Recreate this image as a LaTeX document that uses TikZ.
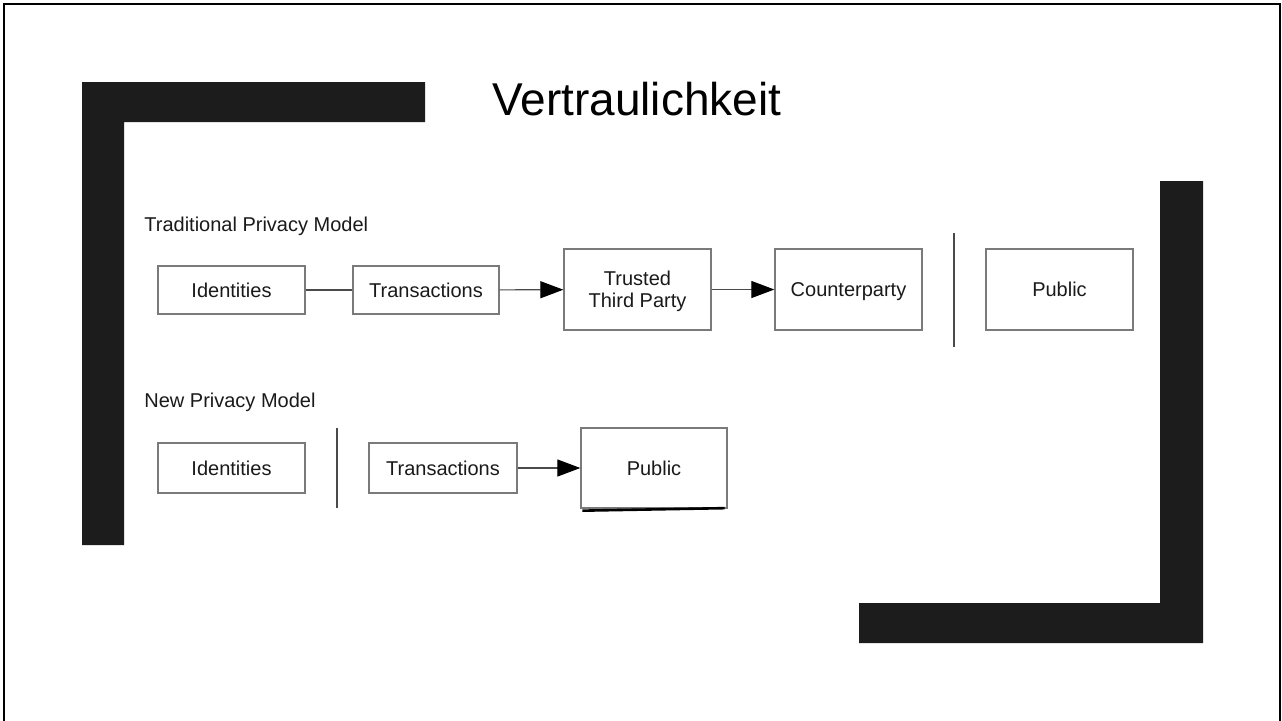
\documentclass[tikz,border=0pt]{standalone}
\usepackage{fontspec}
\setmainfont{Liberation Sans}
\usetikzlibrary{arrows.meta}

\definecolor{bar}{HTML}{1c1c1c}
\definecolor{frame}{HTML}{7a7a7a}
\definecolor{wire}{HTML}{4a4a4a}
\definecolor{ink}{HTML}{1a1a1a}

\begin{document}
\begin{tikzpicture}[
  x=0.5pt, y=-0.5pt,
  line cap=butt, line join=miter,
  every node/.style={font=\fontsize{10}{11}\selectfont, text=ink, inner sep=0pt},
  box/.style={draw=frame, line width=0.65pt, fill=white, minimum width=73.5pt, align=center, text height=7.2pt, text depth=0pt},
  low/.style={box, minimum height=24pt},
  tall/.style={box, minimum height=40.5pt},
  link/.style={draw=wire, line width=0.55pt},
  flow/.style={link, -{Triangle[length=11.5pt, width=8.5pt, color=black]}},
  divider/.style={draw=wire, line width=0.55pt},
  heading/.style={anchor=base west, font=\fontsize{10}{12}\selectfont},
]
\useasboundingbox (0,0) rectangle (1282,720);
\fill[white] (0,0) rectangle (1282,720);
\draw[line width=1.1pt] (4,722) -- (4,4) -- (1280,4) -- (1280,722);
\fill[bar] (82,82) -- (425,82) -- (425,122) -- (124,122) -- (124,545) -- (82,545) -- cycle;
\fill[bar] (1160,181) -- (1203,181) -- (1203,643) -- (859,643) -- (859,603) -- (1160,603) -- cycle;
\node[anchor=base west, font=\fontsize{23}{26}\selectfont, text=black] (title) at (492,115) {Vertraulichkeit};

\node[heading] (oldhead) at (144,231) {Traditional Privacy Model};
\node[low] (oldid) at (231.5,290) {Identities};
\node[low, minimum width=73pt] (oldtx) at (426,290) {Transactions};
\node[tall, text height=] (ttp) at (637.5,289.5) {Trusted\\Third Party};
\node[tall] (cparty) at (848.5,289.5) {Counterparty};
\node[tall] (oldpub) at (1059.5,289.5) {Public};
\draw[link] (oldid) -- (oldtx);
\draw[flow] (oldtx) -- (ttp);
\draw[flow] (ttp) -- (cparty);
\draw[divider] (954,233) -- (954,347);

\node[heading] (newhead) at (144,407) {New Privacy Model};
\node[box, minimum height=25pt] (newid) at (231.5,468) {Identities};
\node[box, minimum height=25pt, minimum width=74pt] (newtx) at (443,468) {Transactions};
\node[tall, minimum width=73pt, minimum height=40pt] (newpub) at (654,468) {Public};
\draw[flow] (newtx) -- (newpub);
\draw[divider] (337,428) -- (337,508);
\draw[draw=black, line width=1.3pt] ([shift={(2,2)}]newpub.south west) -- ([shift={(-3,-0.5)}]newpub.south east);
\end{tikzpicture}
\end{document}
